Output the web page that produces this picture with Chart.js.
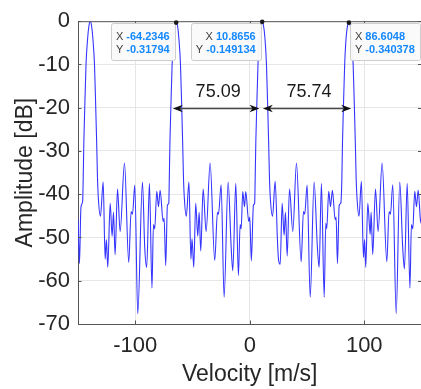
<!DOCTYPE html>
<html>
<head>
<meta charset="utf-8">
<script src="https://cdn.jsdelivr.net/npm/chart.js@4.4.1/dist/chart.umd.min.js"></script>
<style>
  html, body { margin: 0; padding: 0; background: #fff; overflow: hidden; }
</style>
</head>
<body>
<canvas id="chart" width="423" height="389"></canvas>
<script>
// spectrum: velocity [m/s] and amplitude [dB]
const velocity = [
  -150.5, -149.9, -148.7, -147.6, -147.0, -145.9, -145.5, -144.9, -144.1, -143.0,
  -141.6, -140.4, -139.3, -138.2, -137.0, -135.6, -134.5, -133.7, -133.0, -132.2,
  -130.4, -128.0, -126.3, -125.2, -124.0, -121.9, -120.2, -119.0, -117.6, -115.5,
  -113.2, -109.4, -105.7, -103.6, -102.4, -100.4, -97.8, -93.7, -91.7, -90.0,
  -87.6, -85.4, -84.1, -83.0, -81.2, -79.7, -78.3, -75.6, -74.8, -73.4,
  -71.9, -70.7, -70.3, -69.7, -68.9, -67.8, -66.5, -65.3, -64.2346, -63.1,
  -61.9, -60.5, -59.4, -58.6, -57.9, -57.1, -55.4, -53.1, -51.4, -50.4,
  -48.9, -47.2, -45.4, -44.2, -42.8, -40.7, -38.1, -34.6, -30.6, -28.2,
  -27.3, -25.0, -22.4, -18.9, -16.2, -14.8, -12.2, -9.9, -8.4, -7.5,
  -6.1, -4.6, -3.5, -0.9, 0.0, 1.4, 3.2, 4.3, 4.7, 5.3,
  6.1, 7.2, 8.4, 9.7, 10.8656, 12.0, 13.3, 14.6, 15.7, 16.5,
  17.2, 18.0, 19.9, 22.2, 24.2, 25.1, 26.6, 28.3, 30.0, 31.2,
  32.7, 34.7, 37.6, 40.8, 44.9, 46.9, 48.0, 50.1, 52.8, 56.2,
  59.1, 60.6, 62.6, 65.0, 66.4, 67.2, 69.0, 70.5, 72.2, 74.6,
  75.4, 76.6, 78.1, 79.5, 80.4, 81.0, 81.8, 82.9, 84.1, 85.4,
  86.6048, 87.8, 89.0, 90.3, 91.4, 92.2, 92.9, 93.7, 95.4, 97.5,
  99.3, 100.3, 101.3, 103.1, 105.2, 106.0, 107.4, 109.8, 112.1, 115.6,
  119.7, 121.7, 122.9, 124.9, 127.9, 131.0, 133.6, 135.1, 137.5, 139.9,
  141.2, 142.4, 144.1, 145.6, 147.1, 149.1, 150.5
];
const amplitudeDb = [
  -45.0, -46.5, -56.0, -44.0, -42.5, -41.4, -37, -28, -20, -10,
  -4, -1, 0, -1, -4, -10, -20, -28, -36, -41,
  -45.1, -37.2, -55.0, -50.5, -56.9, -42.1, -49.7, -44.2, -54.0, -38.8,
  -48.6, -32.8, -55.8, -44.0, -44.6, -37.9, -67.6, -37.2, -52.4, -56.9,
  -37.5, -61.7, -47.0, -48.0, -39.3, -42.9, -39.1, -46.3, -45.5, -56.5,
  -42.5, -42.1, -37, -28, -20, -10, -4, -1, -0.31794, -1,
  -4, -10, -20, -28, -36, -41, -45.1, -37.2, -55.0, -50.3,
  -56.9, -42.1, -49.7, -44.2, -53.1, -38.8, -48.6, -32.8, -55.3, -44.2,
  -44.6, -37.8, -63.8, -37.2, -52.4, -57.7, -37.5, -58.8, -47.0, -48.0,
  -39.4, -42.9, -39.4, -46.3, -45.3, -55.4, -42.5, -42.1, -37, -28,
  -20, -10, -4, -1, -0.149134, -1, -4, -10, -20, -28,
  -36, -41, -45.1, -37.0, -50.8, -55.0, -56.2, -42.1, -49.5, -44.2,
  -54.3, -38.8, -48.6, -32.8, -55.6, -44.0, -44.6, -37.9, -63.8, -37.2,
  -52.4, -56.9, -37.5, -63.8, -46.7, -48.0, -39.3, -42.9, -39.1, -45.9,
  -45.3, -56.0, -42.6, -42.1, -37, -28, -20, -10, -4, -1,
  -0.340378, -1, -4, -10, -20, -28, -36, -41, -45.1, -37.0,
  -54.6, -50.5, -56.9, -42.1, -49.3, -44.2, -53.9, -38.8, -48.6, -32.8,
  -55.6, -44.0, -44.6, -37.8, -67.6, -37.2, -52.4, -57.3, -37.5, -61.7,
  -47.0, -48.0, -39.3, -42.9, -39.1, -46.0, -47.0
];

// data tips on three of the peaks
const tipVelocity = [-64.2346, 10.8656, 86.6048];
const tipAmplitude = [-0.31794, -0.149134, -0.340378];

// spacing markers between peaks, drawn at the -20 dB level
const spanFrom = [-67.2, 11.4];
const spanTo = [8.5, 88.6];
const spanLabels = ['75.09', '75.74'];
const spanLevel = -20;

const xTicks = [-100, 0, 100];
const yTicks = [-70, -60, -50, -40, -30, -20, -10, 0];

const FONT = '"Liberation Sans", Arial, Helvetica, sans-serif';
const TEXT = '#262626';
const AXIS = '#555555';

function arrowHead(ctx, tip, yy, dir) {
  ctx.beginPath();
  ctx.moveTo(tip, yy);
  ctx.lineTo(tip - dir * 10, yy - 3.8);
  ctx.lineTo(tip - dir * 7, yy);
  ctx.lineTo(tip - dir * 10, yy + 3.8);
  ctx.closePath();
  ctx.fill();
}

const annotate = {
  id: 'annotate',
  afterDraw(chart) {
    const { ctx, chartArea: a, scales: { x, y } } = chart;
    ctx.save();

    // box top edge and inward tick marks (matlab style)
    ctx.strokeStyle = AXIS;
    ctx.lineWidth = 1;
    ctx.beginPath();
    ctx.moveTo(a.left, a.top + 0.5);
    ctx.lineTo(a.right, a.top + 0.5);
    yTicks.forEach(v => {
      const py = Math.round(y.getPixelForValue(v)) + 0.5;
      ctx.moveTo(a.left, py); ctx.lineTo(a.left + 3.5, py);
      ctx.moveTo(a.right, py); ctx.lineTo(a.right - 3.5, py);
    });
    xTicks.forEach(v => {
      const px = Math.round(x.getPixelForValue(v)) + 0.5;
      ctx.moveTo(px, a.bottom); ctx.lineTo(px, a.bottom - 3.5);
      ctx.moveTo(px, a.top); ctx.lineTo(px, a.top + 3.5);
    });
    ctx.stroke();

    // double arrows with the peak spacing
    const ay = Math.round(y.getPixelForValue(spanLevel)) + 0.5;
    spanFrom.forEach((v, i) => {
      const x0 = x.getPixelForValue(v);
      const x1 = x.getPixelForValue(spanTo[i]);
      ctx.strokeStyle = '#4a4a4a';
      ctx.lineWidth = 1.5;
      ctx.beginPath();
      ctx.moveTo(x0 + 6, ay);
      ctx.lineTo(x1 - 6, ay);
      ctx.stroke();
      ctx.fillStyle = '#111';
      arrowHead(ctx, x0, ay, -1);
      arrowHead(ctx, x1, ay, 1);
      ctx.font = '18px ' + FONT;
      ctx.fillStyle = '#1a1a1a';
      ctx.textAlign = 'center';
      ctx.textBaseline = 'middle';
      ctx.fillText(spanLabels[i], (x0 + x1) / 2 + 2, ay - 16);
    });

    // data tips
    const align = ['left', 'right', 'left'];
    tipVelocity.forEach((v, i) => {
      const px = x.getPixelForValue(v);
      const py = y.getPixelForValue(tipAmplitude[i]);
      const rows = [['X', String(v)], ['Y', String(tipAmplitude[i])]];
      ctx.font = '11px ' + FONT;
      const labW = ctx.measureText('X ').width;
      ctx.font = 'bold 11px ' + FONT;
      const widths = rows.map(r => labW + ctx.measureText(r[1]).width);
      const w = Math.max(...widths) + 10;
      const h = 37;
      const left = i === 2 ? px + 1 : px - 1.5 - w;
      const top = a.top + 2;
      ctx.fillStyle = 'rgba(250,250,250,0.97)';
      ctx.strokeStyle = '#cdcdcd';
      ctx.lineWidth = 1;
      ctx.beginPath();
      ctx.roundRect(Math.round(left) + 0.5, Math.round(top) + 0.5, Math.round(w), h, 2);
      ctx.fill();
      ctx.stroke();
      ctx.textBaseline = 'middle';
      ctx.textAlign = 'left';
      rows.forEach((r, k) => {
        const ty = top + 14 + k * 13;
        const tx = align[i] === 'left' ? left + 5 : left + w - 5 - widths[k];
        ctx.font = '11px ' + FONT;
        ctx.fillStyle = '#404040';
        ctx.fillText(r[0], tx, ty);
        ctx.font = 'bold 11px ' + FONT;
        ctx.fillStyle = '#1488ff';
        ctx.fillText(r[1], tx + labW, ty);
      });
      // tip marker on the peak
      ctx.fillStyle = '#1a1a1a';
      ctx.beginPath();
      ctx.arc(px, py, 2.3, 0, Math.PI * 2);
      ctx.fill();
    });

    ctx.restore();
  }
};

new Chart(document.getElementById('chart'), {
  type: 'line',
  data: {
    datasets: [{
      data: velocity.map((v, i) => ({ x: v, y: amplitudeDb[i] })),
      borderColor: '#3535ff',
      borderWidth: 1.1,
      pointRadius: 0,
      fill: false,
      cubicInterpolationMode: 'monotone'
    }]
  },
  options: {
    responsive: false,
    animation: false,
    layout: { padding: { top: 17, right: 1.5, left: 0, bottom: 0 } },
    plugins: { legend: { display: false }, tooltip: { enabled: false } },
    scales: {
      x: {
        type: 'linear',
        min: -150,
        max: 150,
        afterBuildTicks: s => { s.ticks = xTicks.map(v => ({ value: v })); },
        afterFit: s => { s.height = 65; },
        grid: { color: '#e6e6e6', drawTicks: false },
        border: { color: AXIS, width: 1 },
        ticks: { font: { family: FONT, size: 22 }, color: TEXT, padding: 9, maxRotation: 0 },
        title: {
          display: true, text: 'Velocity [m/s]', color: TEXT,
          font: { family: FONT, size: 23 }, padding: { top: 0, bottom: 1 }
        }
      },
      y: {
        min: -70,
        max: 0,
        afterBuildTicks: s => { s.ticks = yTicks.map(v => ({ value: v })); },
        afterFit: s => { s.width = 78; },
        grid: { color: '#e6e6e6', drawTicks: false },
        border: { color: AXIS, width: 1 },
        ticks: { font: { family: FONT, size: 22 }, color: TEXT, padding: 8 },
        title: {
          display: true, text: 'Amplitude [dB]', color: TEXT,
          font: { family: FONT, size: 23 }, padding: { top: 12, bottom: 0 }
        }
      }
    }
  },
  plugins: [annotate]
});
</script>
</body>
</html>
